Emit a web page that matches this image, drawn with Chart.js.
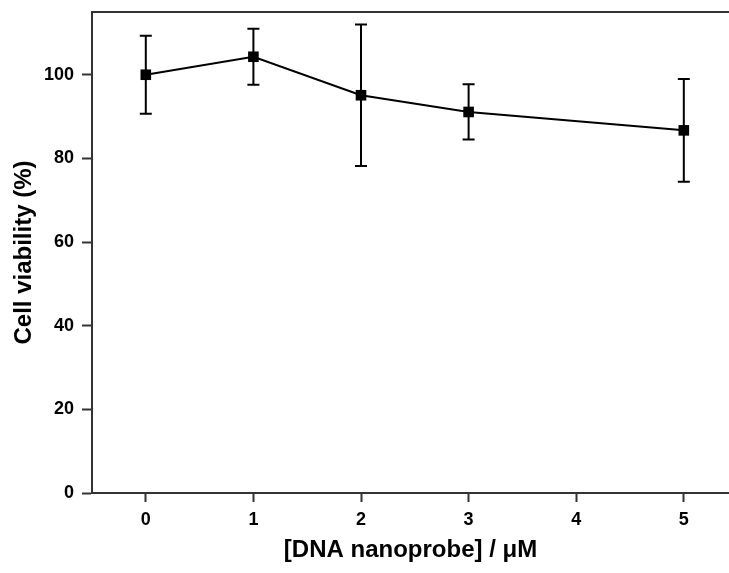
<!DOCTYPE html>
<html lang="en">
<head>
<meta charset="utf-8" />
<title>Cell viability</title>
<script src="https://cdn.jsdelivr.net/npm/chart.js"></script>
<style>
  body { margin: 0; background: #fff; }
  #wrap { width: 729px; height: 573px; position: relative; }
</style>
</head>
<body>
<div id="wrap"><canvas id="viabilityChart"></canvas></div>
<script>
// data
const concentrations = [0, 1, 2, 3, 5];          // uM
const viability = [100, 104.3, 95.1, 91.1, 86.7]; // %
const errors = [9.3, 6.7, 16.9, 6.6, 12.3];       // +/- %
const xTicks = [0, 1, 2, 3, 4, 5];
const yTicks = [0, 20, 40, 60, 80, 100];

const fontFamily = '"Liberation Sans", Arial, Helvetica, sans-serif';
const axisColor = '#333';

// error bars + top frame line
const extras = {
  id: 'extras',
  afterDatasetsDraw(chart) {
    const ctx = chart.ctx;
    const xs = chart.scales.x, ys = chart.scales.y;
    ctx.save();
    ctx.strokeStyle = '#000';
    ctx.lineWidth = 2;
    concentrations.forEach((c, i) => {
      const px = xs.getPixelForValue(c);
      const top = ys.getPixelForValue(viability[i] + errors[i]);
      const bot = ys.getPixelForValue(viability[i] - errors[i]);
      ctx.beginPath();
      ctx.moveTo(px, top); ctx.lineTo(px, bot);
      ctx.moveTo(px - 6, top); ctx.lineTo(px + 6, top);
      ctx.moveTo(px - 6, bot); ctx.lineTo(px + 6, bot);
      ctx.stroke();
    });
    // top frame
    const a = chart.chartArea;
    ctx.strokeStyle = axisColor;
    ctx.beginPath();
    ctx.moveTo(a.left - 1, a.top);
    ctx.lineTo(a.right, a.top);
    ctx.stroke();
    ctx.restore();
  }
};

new Chart(document.getElementById('viabilityChart'), {
  type: 'line',
  data: {
    datasets: [{
      data: concentrations.map((c, i) => ({ x: c, y: viability[i] })),
      borderColor: '#000',
      borderWidth: 2,
      pointStyle: 'rect',
      pointRadius: 7.5,
      pointBackgroundColor: '#000',
      pointBorderWidth: 0,
      fill: false,
      tension: 0
    }]
  },
  options: {
    responsive: true,
    maintainAspectRatio: false,
    animation: false,
    layout: { autoPadding: false, padding: { top: 12, right: 0, left: 0, bottom: 0 } },
    plugins: { legend: { display: false }, tooltip: { enabled: false } },
    scales: {
      x: {
        type: 'linear',
        min: -0.5,
        max: 5.42,
        afterBuildTicks: s => { s.ticks = xTicks.map(v => ({ value: v })); },
        afterFit: s => { s.height = 80; s.paddingLeft = 0; s.paddingRight = 0; },
        border: { color: axisColor, width: 2 },
        grid: { drawOnChartArea: false, tickLength: 9, tickColor: axisColor, tickWidth: 2 },
        ticks: { color: '#000', padding: 7, font: { family: fontFamily, size: 18, weight: 'bold' } },
        title: {
          display: true,
          text: '[DNA nanoprobe] / \u03BCM',
          color: '#000',
          padding: { top: 0, bottom: 8 },
          font: { family: fontFamily, size: 24, weight: 'bold' }
        }
      },
      y: {
        min: 0,
        max: 115,
        afterBuildTicks: s => { s.ticks = yTicks.map(v => ({ value: v })); },
        afterFit: s => { s.width = 92; s.paddingTop = 0; s.paddingBottom = 0; },
        border: { color: axisColor, width: 2 },
        grid: { drawOnChartArea: false, tickLength: 10, tickColor: axisColor, tickWidth: 2 },
        ticks: { color: '#000', padding: 8, font: { family: fontFamily, size: 18, weight: 'bold' } },
        title: {
          display: true,
          text: 'Cell viability (%)',
          color: '#000',
          padding: { top: 10, bottom: 0 },
          font: { family: fontFamily, size: 24, weight: 'bold' }
        }
      }
    }
  },
  plugins: [extras]
});
</script>
</body>
</html>
